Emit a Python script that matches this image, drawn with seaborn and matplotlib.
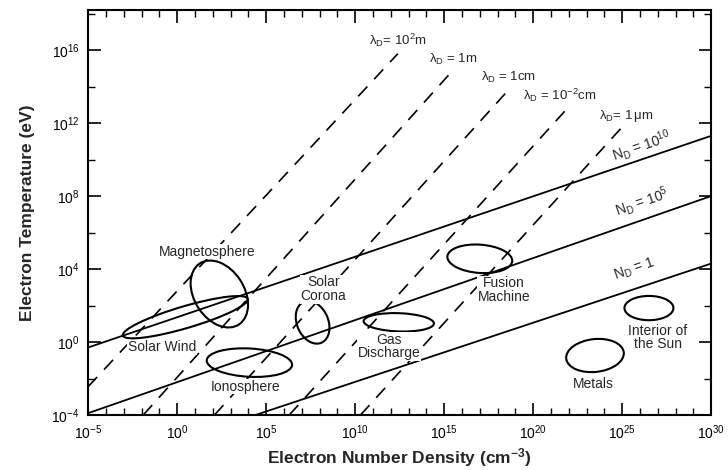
import matplotlib
matplotlib.use("Agg")
import matplotlib.pyplot as plt
from matplotlib.patches import Ellipse
from matplotlib.ticker import FixedLocator, FuncFormatter
import numpy as np
import pandas as pd
import seaborn as sns

# all values are log10 (density in cm^-3, temperature in eV)

# N_D lines (solid)
nd_names = ["$N_D$ = 10$^{10}$", "$N_D$ = 10$^5$", "$N_D$ = 1"]
nd_x = [[-5.0, 30.0], [-5.0, 30.0], [4.4, 30.0]]
nd_y = [[-0.3, 11.3], [-3.9, 8.0], [-4.0, 4.3]]
nd_lab_x = [26.1, 26.1, 25.7]
nd_lab_y = [10.75, 7.7, 4.0]

# Debye length lines (dashed)
ld_names = ["$\\lambda_D$= 10$^2$m", "$\\lambda_D$ = 1m", "$\\lambda_D$ = 1cm",
            "$\\lambda_D$ = 10$^{-2}$cm", "$\\lambda_D$= 1$\\,\\mu$m"]
ld_x = [[-5.0, 12.4], [-1.9, 15.5], [2.1, 18.6], [6.3, 22.1], [10.3, 25.2]]
ld_y = [[-2.45, 15.8], [-4.0, 14.9], [-4.0, 13.8], [-4.0, 13.0], [-4.0, 12.0]]
ld_lab_x = [12.4, 15.5, 18.6, 21.5, 25.2]
ld_lab_y = [16.55, 15.5, 14.5, 13.5, 12.4]

# plasma regions
reg_names = ["Magnetosphere", "Solar Wind", "Ionosphere", "Solar\nCorona",
             "Gas\nDischarge", "Fusion\nMachine", "Interior of\nthe Sun", "Metals"]
reg_cx = [2.37, 0.46, 4.06, 7.61, 12.45, 17.0, 26.5, 23.47]
reg_cy = [2.63, 1.36, -1.13, 1.08, 1.08, 4.56, 1.86, -0.74]
reg_w = [4.0, 7.3, 4.8, 2.45, 3.95, 3.65, 2.75, 3.25]
reg_h = [2.8, 1.2, 1.55, 1.75, 1.0, 1.55, 1.33, 1.8]
reg_ang = [-56, 16, -3, -65, -2, -4, 0, 6]
reg_lab_x = [1.7, -0.84, 3.84, 8.22, 11.9, 18.35, 27.0, 23.4]
reg_lab_y = [4.95, -0.3, -2.45, 2.9, -0.25, 2.85, 0.25, -2.3]

sns.set_theme(style="ticks")
plt.rcParams['font.family'] = ['Liberation Sans', 'DejaVu Sans']
plt.rcParams['mathtext.fontset'] = 'custom'
plt.rcParams['mathtext.rm'] = 'Liberation Sans'
plt.rcParams['mathtext.it'] = 'Liberation Sans:italic'
plt.rcParams['mathtext.default'] = 'regular'

rows = []
for i, (xs, ys) in enumerate(zip(nd_x, nd_y)):
    for x, y in zip(xs, ys):
        rows.append(("nd%d" % i, x, y))
nd_df = pd.DataFrame(rows, columns=["line", "x", "y"])
rows = []
for i, (xs, ys) in enumerate(zip(ld_x, ld_y)):
    for x, y in zip(xs, ys):
        rows.append(("ld%d" % i, x, y))
ld_df = pd.DataFrame(rows, columns=["line", "x", "y"])

fig, ax = plt.subplots(figsize=(7.28, 4.70), dpi=100)
fig.subplots_adjust(left=0.121, right=0.977, bottom=0.117, top=0.979)

sns.lineplot(data=nd_df, x="x", y="y", units="line", estimator=None, sort=False,
             color="black", lw=1.3, ax=ax)
sns.lineplot(data=ld_df, x="x", y="y", units="line", estimator=None, sort=False,
             color="black", lw=1.2, ax=ax)
for ln in ax.lines[len(nd_names):]:
    ln.set_linestyle((0, (8, 6)))

for cx, cy, w, h, a in zip(reg_cx, reg_cy, reg_w, reg_h, reg_ang):
    ax.add_patch(Ellipse((cx, cy), w, h, angle=a, fill=False, ec="black", lw=1.5))

for name, x, y in zip(reg_names, reg_lab_x, reg_lab_y):
    ax.text(x, y, name, ha="center", va="center", fontsize=10, linespacing=0.95,
            bbox=dict(fc="white", ec="none", pad=0.5))
for name, x, y in zip(ld_names, ld_lab_x, ld_lab_y):
    ax.text(x, y, name, ha="center", va="center", fontsize=9.5)
for name, x, y in zip(nd_names, nd_lab_x, nd_lab_y):
    ax.text(x, y, name, ha="center", va="center", fontsize=10, rotation=19)

ax.set_xlim(-5, 30)
ax.set_ylim(-4, 18.2)
ax.xaxis.set_major_locator(FixedLocator(np.arange(-5, 31, 5)))
ax.xaxis.set_minor_locator(FixedLocator(np.arange(-5, 31, 1)))
ax.yaxis.set_major_locator(FixedLocator(np.arange(-4, 17, 4)))
ax.yaxis.set_minor_locator(FixedLocator(np.arange(-4, 19, 2)))
fmt = FuncFormatter(lambda v, p: "10$^{%d}$" % int(round(v)))
ax.xaxis.set_major_formatter(fmt)
ax.yaxis.set_major_formatter(fmt)

ax.tick_params(which="both", direction="in", top=True, right=True, colors="black",
               labelsize=10)
ax.tick_params(which="major", length=9, width=1.2, pad=6)
ax.tick_params(which="minor", length=5, width=1.0)
for s in ax.spines.values():
    s.set_linewidth(1.5)
    s.set_color("black")

ax.set_xlabel("Electron Number Density (cm$^{-3}$)", fontsize=12.5,
              fontweight="bold", labelpad=3)
ax.set_ylabel("Electron Temperature (eV)", fontsize=12.5, fontweight="bold",
              labelpad=12)

fig.savefig("out.png", dpi=100)
